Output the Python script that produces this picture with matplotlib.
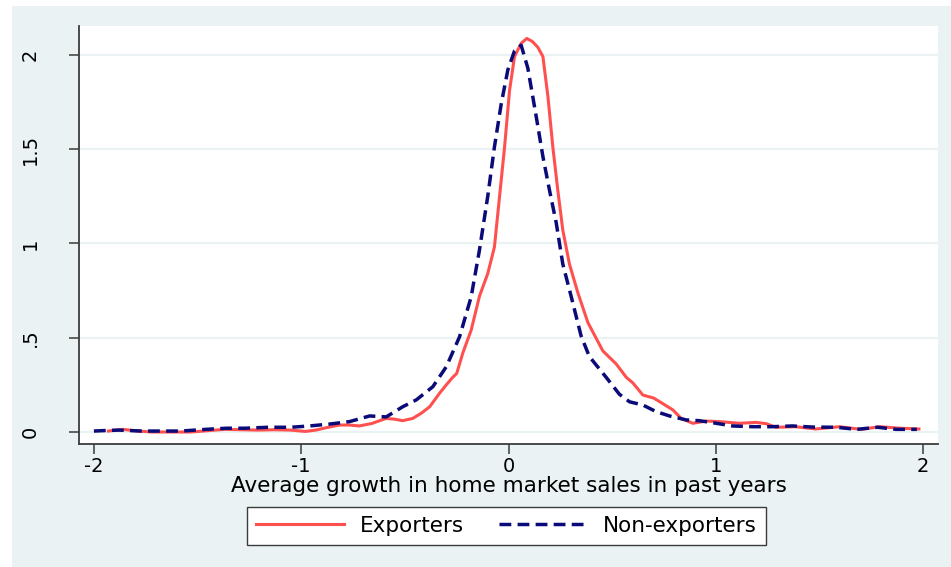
import matplotlib
matplotlib.use("Agg")
import matplotlib.pyplot as plt
from matplotlib.patches import Rectangle

plt.rcParams['font.family'] = ['DejaVu Sans']
plt.rcParams['lines.scale_dashes'] = False

# Kernel density estimates of past home-market sales growth
exp_x = [-1.93, -1.86, -1.79, -1.72, -1.62, -1.53, -1.45, -1.37, -1.29, -1.21,
         -1.13, -1.05, -0.98, -0.93, -0.87, -0.815, -0.77, -0.72, -0.66, -0.59,
         -0.55, -0.51, -0.462, -0.42, -0.38, -0.333, -0.30, -0.269, -0.25, -0.22,
         -0.18, -0.14, -0.10, -0.068, -0.043, -0.019, 0.005, 0.029, 0.061, 0.088,
         0.115, 0.141, 0.166, 0.19, 0.214, 0.238, 0.262, 0.294, 0.334, 0.383,
         0.455, 0.52, 0.568, 0.60, 0.648, 0.70, 0.745, 0.793, 0.833, 0.889,
         0.954, 1.018, 1.114, 1.195, 1.243, 1.29, 1.385, 1.482, 1.597, 1.70,
         1.79, 1.89, 1.98]
exp_y = [0.005, 0.014, 0.005, 0.0, 0.0, 0.0, 0.007, 0.014, 0.012, 0.01,
         0.012, 0.01, 0.003, 0.01, 0.025, 0.037, 0.037, 0.032, 0.045, 0.072,
         0.068, 0.06, 0.072, 0.1, 0.134, 0.205, 0.25, 0.29, 0.31, 0.42,
         0.54, 0.72, 0.84, 0.98, 1.25, 1.51, 1.81, 1.99, 2.06, 2.086,
         2.07, 2.04, 1.99, 1.78, 1.51, 1.28, 1.07, 0.89, 0.74, 0.58,
         0.43, 0.36, 0.29, 0.26, 0.196, 0.18, 0.15, 0.117, 0.072, 0.046,
         0.058, 0.055, 0.046, 0.051, 0.044, 0.025, 0.028, 0.016, 0.028, 0.014,
         0.028, 0.02, 0.016]

nonexp_x = [-2.0, -1.94, -1.88, -1.77, -1.69, -1.58, -1.46, -1.36, -1.27, -1.16,
            -1.05, -0.96, -0.863, -0.767, -0.67, -0.59, -0.51, -0.445, -0.365, -0.30,
            -0.236, -0.18, -0.14, -0.10, -0.068, -0.035, -0.003, 0.029, 0.061, 0.093,
            0.134, 0.166, 0.198, 0.23, 0.262, 0.302, 0.35, 0.39, 0.471, 0.535,
            0.584, 0.648, 0.712, 0.777, 0.857, 0.92, 0.986, 1.08, 1.18, 1.27,
            1.37, 1.47, 1.58, 1.68, 1.78, 1.87, 1.97]
nonexp_y = [0.005, 0.008, 0.01, 0.005, 0.005, 0.005, 0.014, 0.02, 0.02, 0.025,
            0.025, 0.032, 0.042, 0.055, 0.085, 0.08, 0.134, 0.17, 0.24, 0.346,
            0.505, 0.717, 0.965, 1.25, 1.51, 1.74, 1.92, 2.02, 2.05, 1.93,
            1.67, 1.46, 1.28, 1.11, 0.89, 0.72, 0.51, 0.40, 0.29, 0.20,
            0.16, 0.143, 0.108, 0.085, 0.064, 0.06, 0.049, 0.032, 0.028, 0.028,
            0.032, 0.026, 0.025, 0.014, 0.025, 0.014, 0.014]

x_ticks = [-2, -1, 0, 1, 2]
y_ticks = [0, 0.5, 1, 1.5, 2]
y_ticklabels = ["0", ".5", "1", "1.5", "2"]
series_labels = ["Exporters", "Non-exporters"]
x_title = "Average growth in home market sales in past years"

BG = "#EAF2F3"
RED = "#FF5050"
NAVY = "#0A0A78"
AXC = "#3C3C3C"

W, H = 951, 567

fig = plt.figure(figsize=(W / 100, H / 100), dpi=100, facecolor="white")
fig.patches.append(Rectangle((12 / W, 0), 1 - 12 / W, (H - 6) / H,
                             transform=fig.transFigure, facecolor=BG,
                             edgecolor="none", zorder=-10))

ax_left, ax_right, ax_top, ax_bottom = 79, 938, 26, 443.5
ax = fig.add_axes([ax_left / W, (H - ax_bottom) / H,
                   (ax_right - ax_left) / W, (ax_bottom - ax_top) / H])
ax.set_facecolor("white")

ax.plot(exp_x, exp_y, color=RED, lw=2.2, label=series_labels[0], zorder=3)
ax.plot(nonexp_x, nonexp_y, color=NAVY, lw=2.5, dashes=(8.5, 4.5),
        label=series_labels[1], zorder=4)

ax.set_xlim(-2.072, 2.072)
ax.set_ylim(-0.061, 2.152)

ax.set_xticks(x_ticks)
ax.set_xticklabels([str(v) for v in x_ticks])
ax.set_yticks(y_ticks)
ax.set_yticklabels(y_ticklabels, rotation=90, va="center")

ax.grid(axis="y", color=BG, lw=1.6, zorder=0)
ax.grid(axis="x", visible=False)
ax.set_axisbelow(True)

for s in ["top", "right"]:
    ax.spines[s].set_visible(False)
for s in ["left", "bottom"]:
    ax.spines[s].set_color(AXC)
    ax.spines[s].set_linewidth(1.3)

ax.tick_params(axis="both", direction="out", length=7, width=1.1, color=AXC,
               labelsize=14, labelcolor="black")
ax.tick_params(axis="x", pad=3)
ax.tick_params(axis="y", pad=21)

ax.set_xlabel(x_title, fontsize=15.5)
ax.xaxis.set_label_coords(0.5, -(492 - ax_bottom) / (ax_bottom - ax_top))
ax.xaxis.label.set_va("baseline")

leg = fig.legend(loc="center", bbox_to_anchor=(506.5 / W, (H - 526) / H),
                 ncol=2, fontsize=15.5, frameon=True, fancybox=False,
                 edgecolor=AXC, facecolor="white", framealpha=1,
                 handlelength=4.1, handletextpad=0.75, columnspacing=1.6,
                 borderpad=0.4, borderaxespad=0)
leg.get_frame().set_linewidth(1.0)

fig.savefig("out.png", dpi=100, facecolor=fig.get_facecolor())
